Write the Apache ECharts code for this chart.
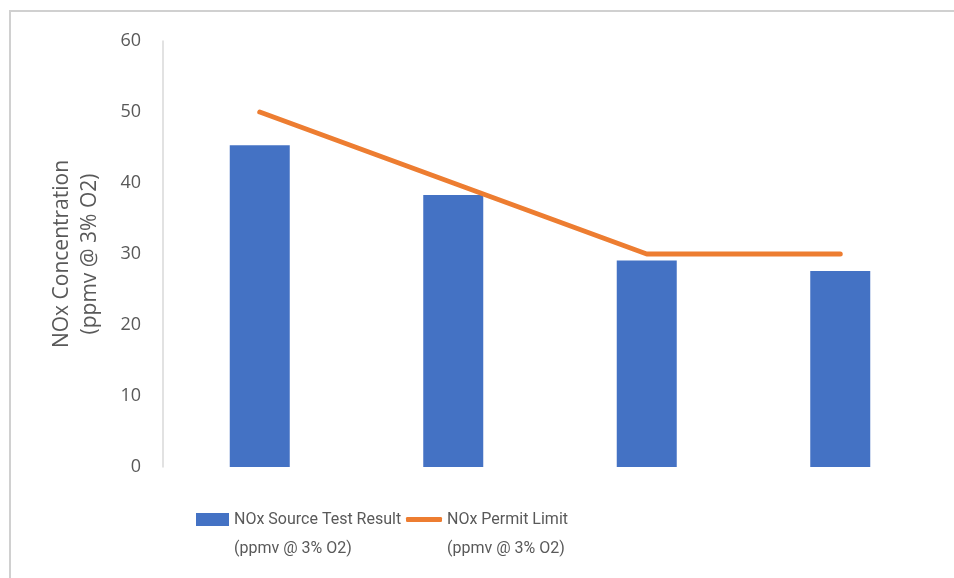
<!DOCTYPE html>
<html>
<head>
<meta charset="utf-8">
<script src="https://cdn.jsdelivr.net/npm/echarts@6/dist/echarts.min.js"></script>
<style>
html,body{margin:0;padding:0;background:#fff;}
#chart{width:954px;height:578px;}
</style>
</head>
<body>
<div id="chart"></div>
<script>
var categories = ['Test 1', 'Test 2', 'Test 3', 'Test 4'];
var sourceTestResult = [45.3, 38.3, 29.1, 27.6];
var permitLimit = [50, 40, 30, 30];
var yTicks = [0, 10, 20, 30, 40, 50, 60];
var barName = 'NOx Source Test Result';
var lineName = 'NOx Permit Limit';
var unitLine = '(ppmv @ 3% O2)';
var yAxisTitle = 'NOx Concentration\n(ppmv @ 3% O2)';

var font = 'Open Sans';
var legendFont = 'Roboto';
var grey = '#595959';

var chart = echarts.init(document.getElementById('chart'));

function legendCfg(name, left, icon, w, h) {
  return {
    data: [{ name: name, icon: icon }],
    left: left,
    top: 476,
    padding: 0,
    itemWidth: w,
    itemHeight: h,
    itemGap: 0,
    selectedMode: false,
    formatter: function (n) { return '\u00a0\n' + n + '\n' + unitLine; },
    textStyle: {
      color: grey,
      fontFamily: legendFont,
      fontSize: 16,
      lineHeight: 29
    }
  };
}

chart.setOption({
  backgroundColor: '#fff',
  animation: false,
  graphic: [
    { type: 'line', shape: { x1: 9, y1: 11, x2: 954, y2: 11 }, style: { stroke: '#d0d0d0', lineWidth: 2 } },
    { type: 'line', shape: { x1: 10, y1: 11, x2: 10, y2: 578 }, style: { stroke: '#d0d0d0', lineWidth: 2 } }
  ],
  grid: { left: 163, right: 17, top: 41, bottom: 111, containLabel: false },
  legend: [
    legendCfg(barName, 196, 'rect', 33, 13),
    legendCfg(lineName, 406, 'roundRect', 36, 5)
  ],
  xAxis: {
    type: 'category',
    data: categories,
    axisLine: { show: false },
    axisTick: { show: false },
    axisLabel: { show: false },
    splitLine: { show: false }
  },
  yAxis: {
    type: 'value',
    min: yTicks[0],
    max: yTicks[yTicks.length - 1],
    interval: yTicks[1] - yTicks[0],
    name: yAxisTitle,
    nameLocation: 'middle',
    nameGap: 59,
    nameTextStyle: { color: grey, fontFamily: font, fontSize: 21, lineHeight: 28 },
    axisLine: { show: true, lineStyle: { color: '#d9d9d9', width: 1.5 } },
    axisTick: { show: false },
    splitLine: { show: false },
    axisLabel: { color: grey, fontFamily: font, fontSize: 18, margin: 22 }
  },
  series: [
    {
      name: barName,
      type: 'bar',
      data: sourceTestResult,
      barWidth: 60,
      itemStyle: { color: '#4472C4' }
    },
    {
      name: lineName,
      type: 'line',
      data: permitLimit,
      showSymbol: false,
      symbol: 'none',
      lineStyle: { color: '#ED7D31', width: 5, cap: 'round', join: 'round' },
      itemStyle: { color: '#ED7D31' }
    }
  ]
});
</script>
</body>
</html>
